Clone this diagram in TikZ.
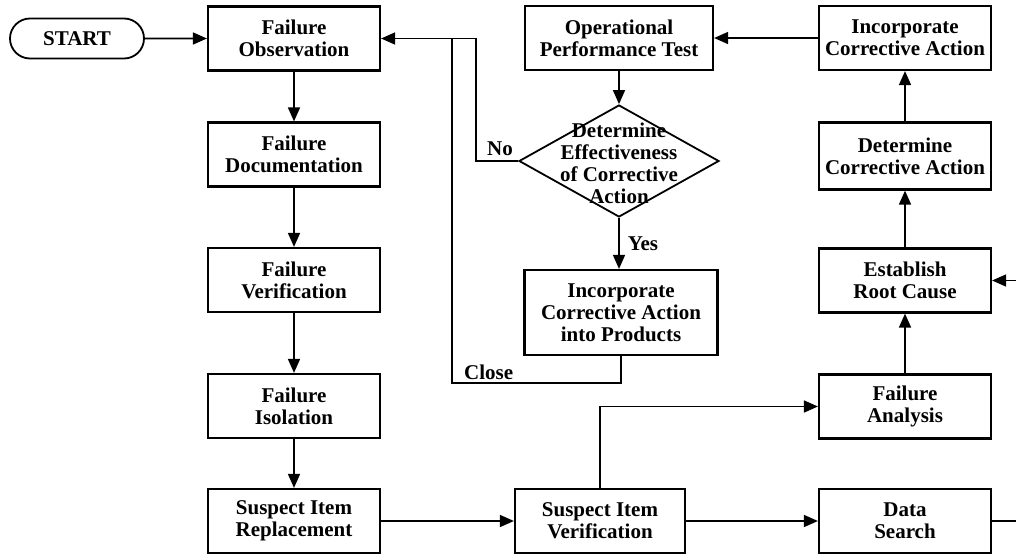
\documentclass[tikz,border=0pt]{standalone}
\usepackage{fontspec}
\setmainfont{Liberation Serif}
\usetikzlibrary{arrows.meta,shapes.geometric,shapes.misc}

\begin{document}
\begin{tikzpicture}[x=1pt,y=-1pt,
  every node/.style={font=\fontsize{21}{22}\selectfont\bfseries, align=center, inner sep=0pt},
  stepbox/.style={draw, line width=2.2pt, minimum width=172pt, minimum height=64pt},
  decision/.style={draw, diamond, line width=1.8pt, minimum width=200pt, minimum height=112pt},
  terminal/.style={draw, rounded rectangle, line width=1.8pt, minimum width=134pt, minimum height=40pt},
  conn/.style={line width=1.6pt},
  flow/.style={conn, -{Triangle[length=14pt,width=12pt]}},
  lbl/.style={font=\fontsize{21}{22}\selectfont\bfseries}]

\useasboundingbox (0,0) rectangle (1016,557);

% left column
\node[terminal] (start) at (77,38.5) {START};
\node[stepbox] (fo)  at (294,38.5) {Failure\\Observation};
\node[stepbox] (fd)  at (294,154.5) {Failure\\Documentation};
\node[stepbox] (fv)  at (294,280) {Failure\\Verification};
\node[stepbox] (fi)  at (294,406) {Failure\\Isolation};
\node[stepbox] (sir) at (294,521) {Suspect Item\\Replacement};

% middle column
\node[stepbox, minimum width=188pt] (opt) at (619,38) {Operational\\Performance Test};
\node[decision] (dec) at (619,161) {};
\node at (619,163) {Determine\\Effectiveness\\of Corrective\\Action};
\node[stepbox, minimum width=193pt, minimum height=85pt] (icap) at (621,312.5)
  {Incorporate\\Corrective Action\\into Products};
\node[stepbox, minimum width=170pt] (siv) at (600,521) {Suspect Item\\Verification};

% right column
\node[stepbox] (ica) at (905,38) {Incorporate\\Corrective Action};
\node[stepbox, minimum height=67pt] (dca) at (905,156) {Determine\\Corrective Action};
\node[stepbox] (erc) at (905,280.5) {Establish\\Root Cause};
\node[stepbox] (fa)  at (905,406.5) {Failure\\Analysis};
\node[stepbox] (ds)  at (905,521) {Data\\Search};

% free ends at the right border
\coordinate (dsout) at (1016,521);
\coordinate (ercin) at (1016,280.5);

% loop corners
\coordinate (nocorner) at (476,161);
\coordinate (closecorner) at (452,383);

% main flow
\draw[flow] (start) -- (fo);
\draw[flow] (fo) -- (fd);
\draw[flow] (fd) -- (fv);
\draw[flow] (fv) -- (fi);
\draw[flow] (fi) -- (sir);
\draw[flow] (sir) -- (siv);
\draw[flow] (siv) -- (ds);
\draw[conn] (ds) -- (dsout);
\draw[flow] (siv.north) |- (fa.west);
\draw[flow] (fa) -- (erc);
\draw[flow] (ercin) -- (erc.east);
\draw[flow] (erc) -- (dca);
\draw[flow] (dca) -- (ica);
\draw[flow] (ica) -- (opt);
\draw[flow] (opt) -- (dec.north);
\draw[flow] (dec.south) -- node[right=8pt, lbl] {Yes} (dec.south |- icap.north);

% feedback loops
\draw[flow] (dec.west) -- node[above=4pt, lbl, xshift=3pt] {No} (nocorner) |- (fo.east);
\draw[conn] (icap.south) |- (closecorner) -- (closecorner |- fo.east);
\node[lbl, anchor=south west] (closelbl) at ([xshift=12pt,yshift=3pt]closecorner) {Close};

\end{tikzpicture}
\end{document}
